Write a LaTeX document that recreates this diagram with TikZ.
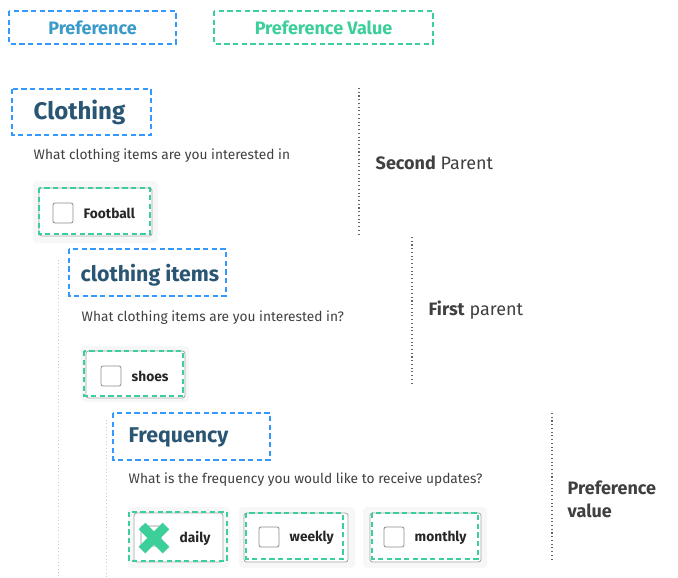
\documentclass[tikz,border=0pt]{standalone}
\usepackage{fontspec}
\setmainfont{Fira Sans}
\begin{document}
\begin{tikzpicture}[x=0.75pt,y=-0.75pt,
  bluebox/.style={draw=blue!50!cyan!80!white,dashed,line width=0.9pt,dash pattern=on 4pt off 2.5pt},
  greenbox/.style={draw=grn,dashed,line width=0.9pt,dash pattern=on 4pt off 2.5pt},
  cardbg/.style={fill=black!3,draw=none,rounded corners=3pt},
  cardin/.style={draw=black!35,fill=white,rounded corners=2pt,line width=0.6pt},
  chk/.style={draw=black!45,rounded corners=1.5pt,line width=0.6pt},
  head/.style={anchor=west,text=hd,font=\bfseries},
  q/.style={anchor=west,text=black!75,font=\fontsize{10.3}{12}\selectfont},
  opt/.style={anchor=west,text=black!85,font=\fontsize{10.3}{12}\selectfont\bfseries},
  side/.style={anchor=west,text=black!75,font=\fontsize{13.5}{16}\selectfont},
  vdot/.style={draw=black!60,dotted,line width=0.8pt},
  ldot/.style={draw=cyan!40!black!30,dotted,line width=0.6pt}]
\definecolor{grn}{HTML}{3CCF9A}
\definecolor{hd}{HTML}{2A5673}
\definecolor{lb}{HTML}{3A9BC9}
\useasboundingbox (0,0) rectangle (678,578);
% legend
\draw[bluebox] (9,11) rectangle (176,44);
\node[anchor=center,text=lb,font=\fontsize{13.5}{15}\selectfont\bfseries] (lp) at (92.5,28) {Preference};
\draw[greenbox] (214,11) rectangle (433,44);
\node[anchor=center,text=grn,font=\fontsize{13.5}{15}\selectfont\bfseries] (lv) at (323.5,28) {Preference Value};
% tree lines
\draw[ldot] (58,260) coordinate (l1a) -- (58,578) coordinate (l1b);
\draw[ldot] (106,420) coordinate (l2a) -- (106,578) coordinate (l2b);
% Clothing
\draw[bluebox] (12,89) rectangle (151,135);
\node[head,font=\fontsize{18}{20}\selectfont\bfseries] (c1) at (29,112) {Clothing};
\node[q] (q1) at (29,156) {What clothing items are you interested in};
\fill[cardbg] (33,181) rectangle (158,243);
\draw[cardin] (39,188) rectangle (152,236);
\draw[greenbox] (39,188) rectangle (150,234);
\draw[chk] (53,203) rectangle (73,223);
\node[opt] (o1) at (79,213) {Football};
% clothing items
\draw[bluebox] (69,249) rectangle (226,296);
\node[head,font=\fontsize{16}{18}\selectfont\bfseries] (c2) at (76,275) {clothing items};
\node[q] (q2) at (77,318) {What clothing items are you interested in?};
\fill[cardbg] (81,346) rectangle (189,402);
\draw[cardin] (86,351) rectangle (185,398);
\draw[greenbox] (84,351) rectangle (183,396);
\draw[chk] (101,366) rectangle (121,386);
\node[opt] (o2) at (127,376) {shoes};
% Frequency
\draw[bluebox] (113,413) rectangle (270,460);
\node[head,font=\fontsize{16}{18}\selectfont\bfseries] (c3) at (124,437) {Frequency};
\node[q] (q3) at (124,480) {What is the frequency you would like to receive updates?};
\fill[cardbg] (128,507) rectangle (230,568);
\draw[cardin] (134,513) rectangle (223,562);
\draw[greenbox] (129,512) rectangle (227,561);
\draw[chk] (141,526) rectangle (161,546);
\draw[grn,line width=7pt] (142,526) -- (166,550) (166,526) -- (142,550);
\node[opt] (o3) at (175,538) {daily};
\fill[cardbg] (239,507) rectangle (355,568);
\draw[cardin] (244,513) rectangle (348,562);
\draw[greenbox] (246,513) rectangle (343,559);
\draw[chk] (259,527) rectangle (279,547);
\node[opt] (o4) at (285,538) {weekly};
\fill[cardbg] (363,507) rectangle (487,568);
\draw[cardin] (370,513) rectangle (481,562);
\draw[greenbox] (372,513) rectangle (478,559);
\draw[chk] (384,527) rectangle (404,547);
\node[opt] (o5) at (410,538) {monthly};
% side
\draw[vdot] (359,88) coordinate (d1a) -- (359,235) coordinate (d1b);
\draw[vdot] (412,237) coordinate (d2a) -- (412,383) coordinate (d2b);
\draw[vdot] (552,413) coordinate (d3a) -- (552,560) coordinate (d3b);
\node[side] (s1) at (371,163) {\textbf{Second} Parent};
\node[side] (s2) at (424,310) {\textbf{First} parent};
\node[side,align=left,font=\fontsize{13.5}{17}\selectfont\bfseries] (s3) at (563,499) {Preference\\value};
\end{tikzpicture}
\end{document}
